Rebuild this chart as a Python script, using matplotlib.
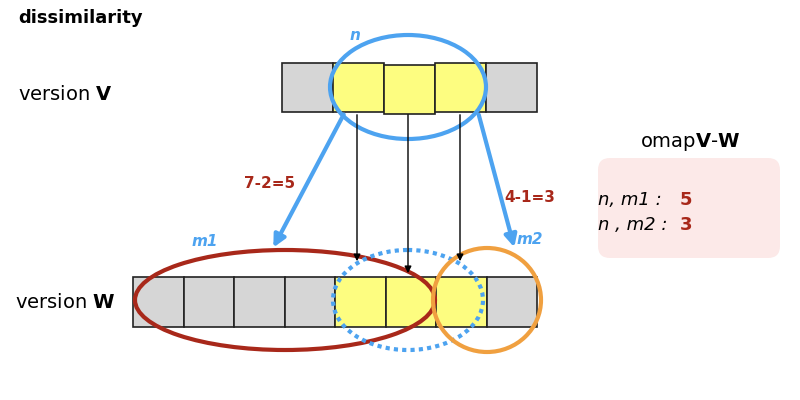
import matplotlib.pyplot as plt
from matplotlib.patches import Rectangle, Ellipse, FancyBboxPatch

GRAY = '#d6d6d6'
YEL = '#fdfd80'
BLUE = '#4da3f0'
RED = '#a8281a'
ORANGE = '#f0a040'

# cell colours for each row
top_cells = ['g', 'y', 'y', 'y', 'g']
bot_cells = ['g', 'g', 'g', 'g', 'y', 'y', 'y', 'g']
top_x0, top_y, cw, ch = 282, 63, 51, 49
bot_x0, bot_y = 133, 277

fig = plt.figure(figsize=(8, 4), dpi=100)
ax = fig.add_axes([0, 0, 1, 1])
ax.set_xlim(0, 800)
ax.set_ylim(400, 0)
ax.axis('off')

for i, c in enumerate(top_cells):
    dy = 2 if i == 2 else 0
    ax.add_patch(Rectangle((top_x0 + i * cw, top_y + dy), cw, ch,
                           facecolor=GRAY if c == 'g' else YEL, edgecolor='#222', lw=1.2))
for i, c in enumerate(bot_cells):
    ax.add_patch(Rectangle((bot_x0 + i * 50.5, bot_y), 50.5, 50,
                           facecolor=GRAY if c == 'g' else YEL, edgecolor='#222', lw=1.2))

ax.add_patch(Ellipse((408, 87), 156, 104, fill=False, edgecolor=BLUE, lw=3))
ax.add_patch(Ellipse((285, 300), 300, 100, fill=False, edgecolor=RED, lw=3))
ax.add_patch(Ellipse((408, 300), 150, 100, fill=False, edgecolor=BLUE, lw=3, ls=(0, (1, 1))))
ax.add_patch(Ellipse((487, 300), 108, 104, fill=False, edgecolor=ORANGE, lw=3))

for x, y2 in [(357, 264), (408, 276), (460, 264)]:
    ax.annotate('', xy=(x, y2), xytext=(x, 112),
                arrowprops=dict(arrowstyle='-|>', color='black', lw=1, mutation_scale=10))
ax.annotate('', xy=(272, 250), xytext=(345, 112),
            arrowprops=dict(arrowstyle='-|>', color=BLUE, lw=3, mutation_scale=18))
ax.annotate('', xy=(515, 250), xytext=(478, 112),
            arrowprops=dict(arrowstyle='-|>', color=BLUE, lw=3, mutation_scale=18))

ax.text(18, 18, 'dissimilarity', fontsize=13, fontweight='bold', va='center')
ax.text(18, 95, r'version $\mathbf{V}$', fontsize=14, va='center')
ax.text(15, 303, r'version $\mathbf{W}$', fontsize=14, va='center')
ax.text(355, 36, 'n', color=BLUE, fontsize=11, style='italic', fontweight='bold', ha='center', va='center')
ax.text(205, 242, 'm1', color=BLUE, fontsize=11, style='italic', fontweight='bold', ha='center', va='center')
ax.text(530, 240, 'm2', color=BLUE, fontsize=11, style='italic', fontweight='bold', ha='center', va='center')
ax.text(270, 183, '7-2=5', color=RED, fontsize=11, fontweight='bold', ha='center', va='center')
ax.text(530, 197, '4-1=3', color=RED, fontsize=11, fontweight='bold', ha='center', va='center')

ax.add_patch(FancyBboxPatch((603, 163), 172, 90, boxstyle='round,pad=5,rounding_size=12',
                            facecolor='#fce9e8', edgecolor='none'))
ax.text(690, 142, r'omap$\mathbf{V}$-$\mathbf{W}$', fontsize=14, ha='center', va='center')
ax.text(598, 200, 'n, m1 : ', fontsize=13, style='italic', va='center')
ax.text(680, 200, '5', fontsize=13, fontweight='bold', color=RED, va='center')
ax.text(598, 225, 'n , m2 : ', fontsize=13, style='italic', va='center')
ax.text(680, 225, '3', fontsize=13, fontweight='bold', color=RED, va='center')

fig.savefig('out.png')
